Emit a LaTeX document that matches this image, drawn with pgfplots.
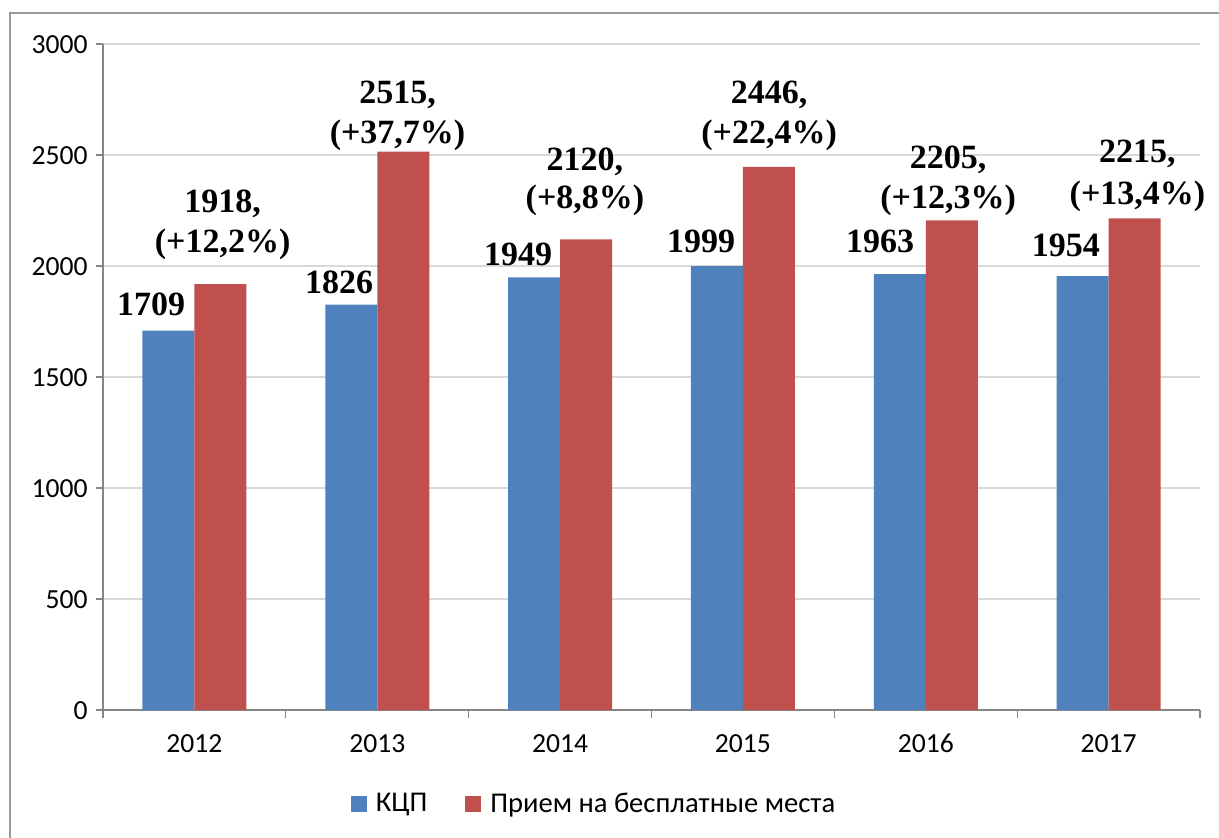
\documentclass[border=0pt]{standalone}
\usepackage{fontspec}
\setmainfont{Liberation Serif}
\newfontfamily\calibri{Carlito}
\usepackage{pgfplots}
\pgfplotsset{compat=1.18}
\definecolor{kblue}{HTML}{4F81BD}
\definecolor{kred}{HTML}{C0504D}
\definecolor{gridgray}{HTML}{D9D9D9}
\definecolor{axisgray}{HTML}{868686}
\definecolor{framegray}{HTML}{999999}
\begin{document}
\begin{tikzpicture}
\useasboundingbox (0,0) rectangle (609.5pt,-419pt);
\draw[framegray, line width=1pt] (4.75pt,-425pt) -- (4.75pt,-6.75pt) -- (615pt,-6.75pt);
\begin{axis}[
  at={(51.5pt,-355pt)}, anchor=south west,
  scale only axis, width=548.5pt, height=333pt,
  ybar=0pt, bar width=26pt,
  xmin=-0.5, xmax=5.5, ymin=0, ymax=3000,
  xtick={0,1,2,3,4,5},
  xticklabels={2012,2013,2014,2015,2016,2017},
  minor xtick={-0.5,0.5,1.5,2.5,3.5,4.5,5.5},
  major x tick style={draw=none},
  ytick={0,500,1000,1500,2000,2500,3000},
  yticklabels={0,500,1000,1500,2000,2500,3000},
  ymajorgrids, xmajorgrids=false, xminorgrids=false,
  grid style={gridgray, line width=0.75pt},
  axis x line*=bottom, axis y line*=left,
  axis line style={axisgray, line width=0.6pt, -},
  tick style={axisgray, line width=0.6pt},
  tick align=outside, major tick length=3.5pt, minor tick length=4pt,
  xticklabel style={font=\calibri\fontsize{13.8}{16}\selectfont, text=black,
    anchor=north, text height=9pt, text depth=0pt, inner sep=0pt, yshift=-8.7pt},
  yticklabel style={font=\calibri\fontsize{13.8}{16}\selectfont, text=black,
    anchor=east, text height=9pt, text depth=0pt, inner sep=0pt, xshift=-4pt},
  clip=false,
  legend style={at={(0.4485,-0.141)}, anchor=center, draw=none,
    font=\calibri\fontsize{14.3}{17}\selectfont,
    /tikz/every odd column/.append style={column sep=2.5pt},
    /tikz/every even column/.append style={column sep=17pt}},
  legend columns=2,
]
\addplot[fill=kblue, draw=none, legend image code/.code={\fill[kblue] (0pt,-4pt) rectangle (8pt,4pt);}]
  coordinates {(0,1709)(1,1826)(2,1949)(3,1999)(4,1963)(5,1954)};
\addplot[fill=kred, draw=none, legend image code/.code={\fill[kred] (0pt,-4pt) rectangle (8pt,4pt);}]
  coordinates {(0,1918)(1,2515)(2,2120)(3,2446)(4,2205)(5,2215)};
\legend{КЦП, Прием на бесплатные места}
\begin{scope}[every node/.style={font=\bfseries\fontsize{17}{20}\selectfont, anchor=base, inner sep=0pt}]
\node at (axis cs:-0.237,1779) {1709};
\node at (axis cs:0.791,1878) {1826};
\node at (axis cs:1.770,2004) {1949};
\node at (axis cs:2.771,2059) {1999};
\node at (axis cs:3.750,2059) {1963};
\node at (axis cs:4.767,2041) {1954};
\node at (axis cs:0.154,2239) {1918,};
\node at (axis cs:0.154,2059) {(+12,2\%)};
\node at (axis cs:1.111,2734) {2515,};
\node at (axis cs:1.111,2554) {(+37,7\%)};
\node at (axis cs:2.136,2432) {2120,};
\node at (axis cs:2.136,2261) {(+8,8\%)};
\node at (axis cs:3.143,2734) {2446,};
\node at (axis cs:3.143,2554) {(+22,4\%)};
\node at (axis cs:4.122,2437) {2205,};
\node at (axis cs:4.122,2261) {(+12,3\%)};
\node at (axis cs:5.158,2464) {2215,};
\node at (axis cs:5.158,2279) {(+13,4\%)};
\end{scope}
\end{axis}
\end{tikzpicture}
\end{document}
